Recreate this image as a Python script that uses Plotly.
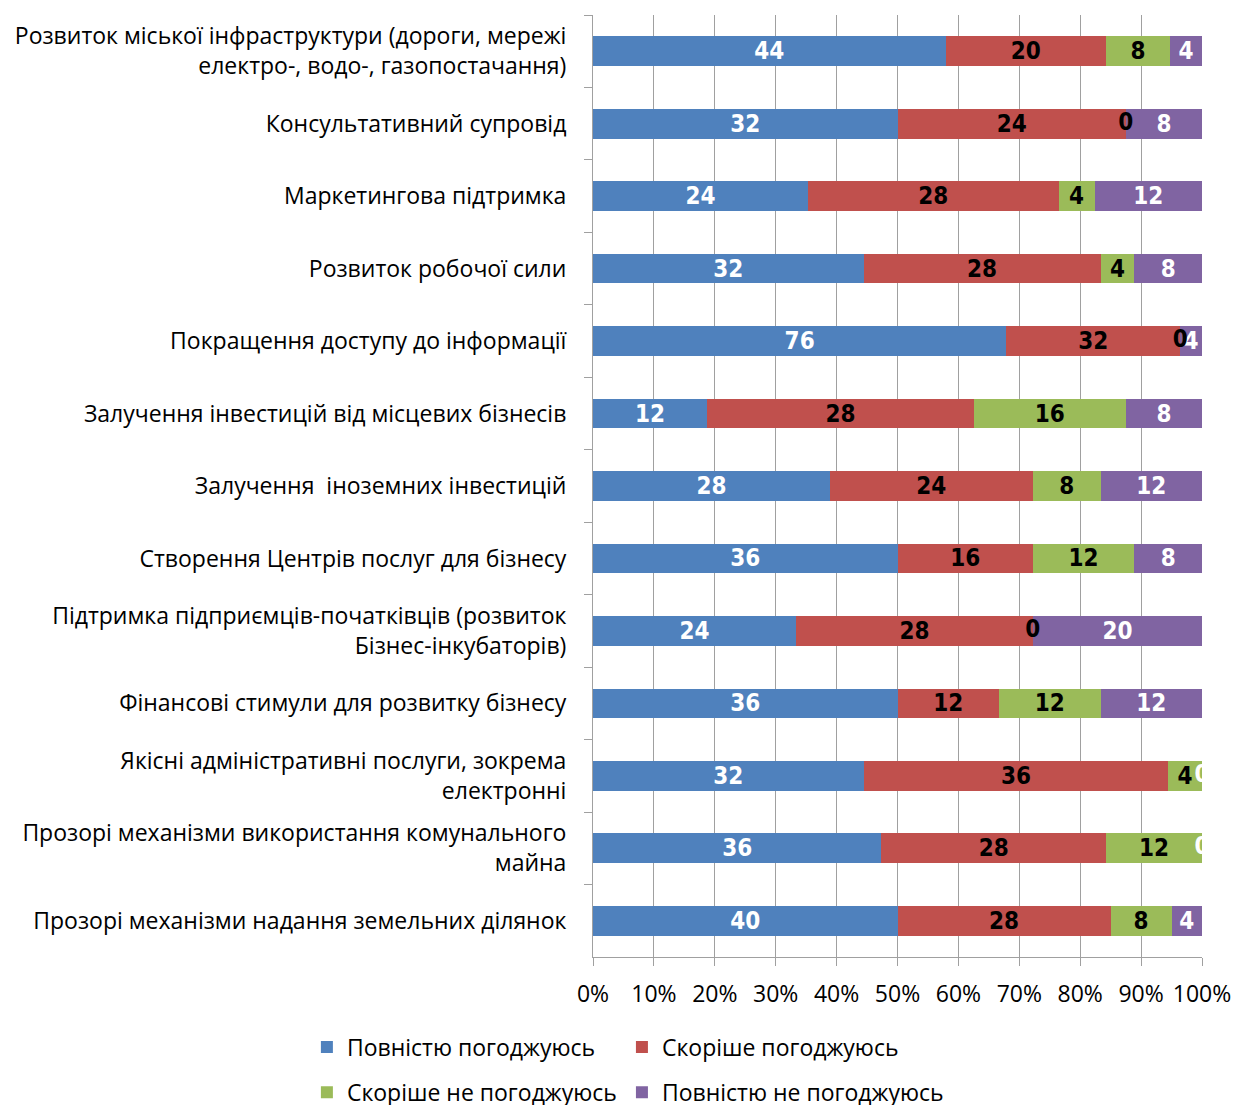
import plotly.graph_objects as go

categories = [
    "Розвиток міської інфраструктури (дороги, мережі<br>електро-, водо-, газопостачання)",
    "Консультативний супровід",
    "Маркетингова підтримка",
    "Розвиток робочої сили",
    "Покращення доступу до інформації",
    "Залучення інвестицій від місцевих бізнесів",
    "Залучення  іноземних інвестицій",
    "Створення Центрів послуг для бізнесу",
    "Підтримка підприємців-початківців (розвиток<br>Бізнес-інкубаторів)",
    "Фінансові стимули для розвитку бізнесу",
    "Якісні адміністративні послуги, зокрема<br>електронні",
    "Прозорі механізми використання комунального<br>майна",
    "Прозорі механізми надання земельних ділянок",
]

series_names = ["Повністю погоджуюсь", "Скоріше погоджуюсь",
                "Скоріше не погоджуюсь", "Повністю не погоджуюсь"]
fully_agree = [44, 32, 24, 32, 76, 12, 28, 36, 24, 36, 32, 36, 40]
rather_agree = [20, 24, 28, 28, 32, 28, 24, 16, 28, 12, 36, 28, 28]
rather_disagree = [8, 0, 4, 4, 0, 16, 8, 12, 0, 12, 4, 12, 8]
fully_disagree = [4, 8, 12, 8, 4, 8, 12, 8, 20, 12, 0, 0, 4]
tick_vals = [0, 10, 20, 30, 40, 50, 60, 70, 80, 90, 100]
tick_text = ["0%", "10%", "20%", "30%", "40%", "50%", "60%", "70%", "80%", "90%", "100%"]

series = [fully_agree, rather_agree, rather_disagree, fully_disagree]
colors = ["#4F81BD", "#C0504D", "#9BBB59", "#8064A2"]
text_colors = ["white", "black", "black", "white"]
legend_ids = ["legend", "legend2", "legend3", "legend4"]

FONT = "Liberation Sans Narrow, DejaVu Sans Condensed, Liberation Sans, sans-serif"
LBL_FONT = "Open Sans, Noto Sans, sans-serif"

fig = go.Figure()
for name, vals, col, tcol, lg in zip(series_names, series, colors, text_colors, legend_ids):
    fig.add_trace(go.Bar(
        y=categories, x=vals, name=name, orientation="h",
        marker=dict(color=col, line=dict(width=0)),
        text=[str(v) if v else "" for v in vals],
        textposition="inside", insidetextanchor="middle", textangle=0,
        constraintext="none",
        textfont=dict(family=FONT, size=24, color=tcol, weight="bold"),
        legend=lg,
    ))

# zero-valued segments: label placed at their (zero-width) position
totals = [sum(s[i] for s in series) for i in range(len(categories))]
zx, zy, zc = [], [], []
for k, vals in enumerate(series):
    for i, v in enumerate(vals):
        if v == 0:
            cum = sum(series[j][i] for j in range(k))
            zx.append(100.0 * cum / totals[i])
            zy.append(categories[i])
            zc.append(text_colors[k])
fig.add_trace(go.Scatter(
    x=zx, y=zy, mode="text", text=["0"] * len(zx),
    textposition="middle center",
    textfont=dict(family=FONT, size=24, color=zc, weight="bold"),
    showlegend=False, hoverinfo="skip", cliponaxis=True,
))

leg_common = dict(orientation="h", xref="container", yref="container",
                  xanchor="left", yanchor="middle",
                  font=dict(family=LBL_FONT, size=23), bgcolor="rgba(0,0,0,0)")
fig.update_layout(
    width=1234, height=1105,
    barmode="stack", barnorm="percent", bargap=0.59,
    plot_bgcolor="white", paper_bgcolor="white",
    margin=dict(l=593, r=32, t=15, b=148, autoexpand=False),
    font=dict(family=LBL_FONT, size=22, color="black"),
    legend=dict(x=0.2487, y=0.0525, **leg_common),
    legend2=dict(x=0.5040, y=0.0525, **leg_common),
    legend3=dict(x=0.2487, y=0.0115, **leg_common),
    legend4=dict(x=0.5040, y=0.0115, **leg_common),
)
fig.update_xaxes(
    range=[0, 100], tickvals=tick_vals, ticktext=tick_text,
    showgrid=True, gridcolor="#A0A0A0", gridwidth=1,
    showline=True, linecolor="#A0A0A0", linewidth=1,
    ticks="outside", ticklen=8, tickcolor="#A0A0A0",
    tickfont=dict(family=LBL_FONT, size=23), ticklabelstandoff=8,
    zeroline=False, automargin=False,
)
fig.update_yaxes(
    categoryorder="array", categoryarray=categories, autorange="reversed",
    showline=True, linecolor="#A0A0A0", linewidth=1,
    ticks="outside", ticklen=8, tickcolor="#A0A0A0", tickson="boundaries",
    showgrid=False, tickfont=dict(family=LBL_FONT, size=23),
    ticklabelstandoff=21, automargin=False,
)
fig.write_html(
    "out.html",
    config={"displayModeBar": False},
    post_script="document.body.style.margin='0';document.body.style.overflow='hidden';",
)
